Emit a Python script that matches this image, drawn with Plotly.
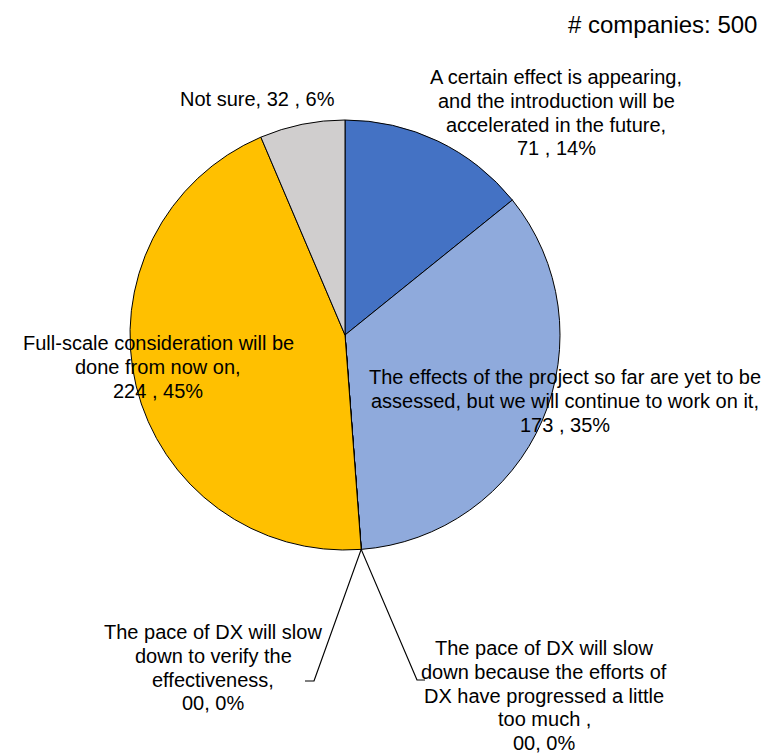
import math
import plotly.graph_objects as go

# Survey answers, listed clockwise from 12 o'clock
label_lines = [
    ["A certain effect is appearing,", "and the introduction will be", "accelerated in the future,"],
    ["The effects of the project so far are yet to be", "assessed, but we will continue to work on it,"],
    ["The pace of DX will slow", "down because the efforts of", "DX have progressed a little", "too much ,"],
    ["The pace of DX will slow", "down to verify the", "effectiveness,"],
    ["Full-scale consideration will be", "done from now on,"],
    ["Not sure,"],
]
counts = [71, 173, 0, 0, 224, 32]
value_text = ["71 , 14%", "173 , 35%", "00, 0%", "00, 0%", "224 , 45%", "32 , 6%"]
colors = ["#4472C4", "#8FAADC", "#A5A5A5", "#ED7D31", "#FFC000", "#D0CECE"]
n_companies = 500

W, H = 777, 753
cx, cy, R = 345, 335, 215  # pie centre and radius in pixels

fig = go.Figure(go.Pie(
    values=counts,
    labels=[" ".join(l) for l in label_lines],
    marker=dict(colors=colors, line=dict(color="#000000", width=1)),
    sort=False,
    direction="clockwise",
    rotation=0,
    textinfo="none",
    hoverinfo="label+value+percent",
    domain=dict(x=[(cx - R) / W, (cx + R) / W], y=[1 - (cy + R) / H, 1 - (cy - R) / H]),
    showlegend=False,
))

def px(x, y):
    return x / W, 1 - y / H

font = dict(family="Liberation Sans, Arial, sans-serif", size=20, color="#000000")
line_step = 23.8

# centre x and first-line y of each text block, in pixels
label_pos = [(556, 77), (565, 377), (544, 648), (213, 632), (158, 343), (257, 99)]
annotations = []
for i, (lines, vt) in enumerate(zip(label_lines, value_text)):
    if len(lines) == 1:
        rows = [f"{lines[0]} {vt}"]
    else:
        rows = lines + [vt]
    x0, y0 = label_pos[i]
    for k, row in enumerate(rows):
        x, y = px(x0, y0 + k * line_step)
        annotations.append(dict(text=row, x=x, y=y, xref="paper", yref="paper",
                                xanchor="center", yanchor="middle", showarrow=False,
                                font=font))

annotations.append(dict(text=f"# companies: {n_companies}", x=px(759, 0)[0], y=px(0, 25)[1],
                        xref="paper", yref="paper", xanchor="right", yanchor="middle",
                        showarrow=False, font=dict(family=font["family"], size=24, color="#000000")))

# leader lines for the zero-sized slices, anchored at their position on the rim
total = sum(counts)
shapes = []
elbows = {2: ((417, 680), (425, 680)), 3: ((314, 681), (305, 681))}
for i, (bend, end) in elbows.items():
    frac = sum(counts[:i]) / total + counts[i] / total / 2
    ang = 2 * math.pi * frac
    sx, sy = cx + R * math.sin(ang), cy - R * math.cos(ang)
    pts = [px(sx, sy), px(*bend), px(*end)]
    path = "M " + " L ".join(f"{a},{b}" for a, b in pts)
    shapes.append(dict(type="path", path=path, xref="paper", yref="paper",
                       line=dict(color="#000000", width=1.2)))

fig.update_layout(
    width=W, height=H,
    margin=dict(l=0, r=0, t=0, b=0),
    paper_bgcolor="#FFFFFF",
    plot_bgcolor="#FFFFFF",
    annotations=annotations,
    shapes=shapes,
)

fig.write_html("out.html")
